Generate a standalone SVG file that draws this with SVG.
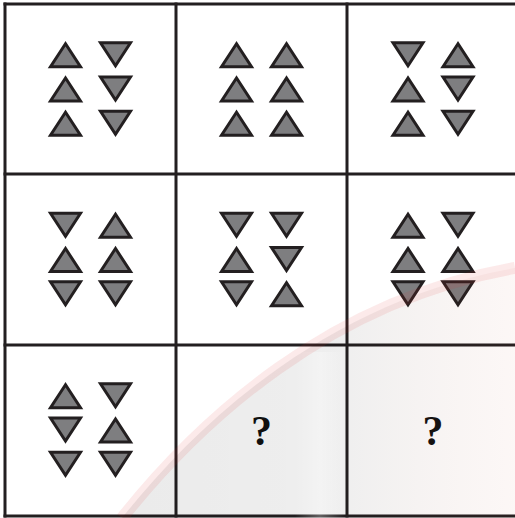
<svg xmlns="http://www.w3.org/2000/svg" xmlns:xlink="http://www.w3.org/1999/xlink" width="515" height="518" viewBox="0 0 515 518">
  <style>
    .tri { fill: #7e7e80; stroke: #231f20; stroke-width: 3; stroke-linejoin: miter; stroke-miterlimit: 10; }
    .grid { stroke: #231f20; stroke-width: 3; fill: none; }
    .q { font-family: "Liberation Serif", "Times New Roman", serif; font-weight: bold; font-size: 42px; fill: #111; text-anchor: middle; }
  </style>
  <defs>
    <polygon id="up" class="tri" points="0,-11 -15,12 15,12"/>
    <polygon id="dn" class="tri" points="-15,-12 15,-12 0,11"/>
    <linearGradient id="shade" x1="0" y1="0" x2="1" y2="0">
      <stop offset="0" stop-color="#000" stop-opacity="0.08"/>
      <stop offset="0.55" stop-color="#000" stop-opacity="0.065"/>
      <stop offset="1" stop-color="#c04020" stop-opacity="0.04"/>
    </linearGradient>
    <linearGradient id="stripe" x1="0" y1="0" x2="1" y2="0">
      <stop offset="0" stop-color="#fff" stop-opacity="0"/>
      <stop offset="0.5" stop-color="#fff" stop-opacity="0.3"/>
      <stop offset="1" stop-color="#fff" stop-opacity="0"/>
    </linearGradient>
  </defs>
  <rect x="0" y="0" width="515" height="518" fill="#ffffff"/>

  <g id="grid">
    <line class="grid" x1="3.5" y1="4" x2="515" y2="4"/>
    <line class="grid" x1="3.5" y1="174" x2="515" y2="174"/>
    <line class="grid" x1="3.5" y1="345" x2="515" y2="345"/>
    <line class="grid" x1="3.5" y1="516" x2="515" y2="516"/>
    <line class="grid" x1="5" y1="2.5" x2="5" y2="517.5"/>
    <line class="grid" x1="176" y1="2.5" x2="176" y2="517.5"/>
    <line class="grid" x1="347" y1="2.5" x2="347" y2="517.5"/>
  </g>

  <g id="cell-1-1">
    <use xlink:href="#up" href="#up" x="65.5" y="54.7"/>
    <use xlink:href="#up" href="#up" x="65.5" y="89"/>
    <use xlink:href="#up" href="#up" x="65.5" y="123.3"/>
    <use xlink:href="#dn" href="#dn" x="115.5" y="54.7"/>
    <use xlink:href="#dn" href="#dn" x="115.5" y="89"/>
    <use xlink:href="#dn" href="#dn" x="115.5" y="123.3"/>
  </g>
  <g id="cell-1-2">
    <use xlink:href="#up" href="#up" x="236.5" y="54.7"/>
    <use xlink:href="#up" href="#up" x="236.5" y="89"/>
    <use xlink:href="#up" href="#up" x="236.5" y="123.3"/>
    <use xlink:href="#up" href="#up" x="286.5" y="54.7"/>
    <use xlink:href="#up" href="#up" x="286.5" y="89"/>
    <use xlink:href="#up" href="#up" x="286.5" y="123.3"/>
  </g>
  <g id="cell-1-3">
    <use xlink:href="#dn" href="#dn" x="408" y="54.7"/>
    <use xlink:href="#up" href="#up" x="408" y="89"/>
    <use xlink:href="#up" href="#up" x="408" y="123.3"/>
    <use xlink:href="#up" href="#up" x="458" y="54.7"/>
    <use xlink:href="#dn" href="#dn" x="458" y="89"/>
    <use xlink:href="#dn" href="#dn" x="458" y="123.3"/>
  </g>

  <g id="cell-2-1">
    <use xlink:href="#dn" href="#dn" x="65.5" y="225.2"/>
    <use xlink:href="#up" href="#up" x="65.5" y="259.5"/>
    <use xlink:href="#dn" href="#dn" x="65.5" y="293.8"/>
    <use xlink:href="#up" href="#up" x="115.5" y="225.2"/>
    <use xlink:href="#up" href="#up" x="115.5" y="259.5"/>
    <use xlink:href="#dn" href="#dn" x="115.5" y="293.8"/>
  </g>
  <g id="cell-2-2">
    <use xlink:href="#dn" href="#dn" x="236.5" y="225.2"/>
    <use xlink:href="#up" href="#up" x="236.5" y="259.5"/>
    <use xlink:href="#dn" href="#dn" x="236.5" y="293.8"/>
    <use xlink:href="#dn" href="#dn" x="286.5" y="225.2"/>
    <use xlink:href="#dn" href="#dn" x="286.5" y="259.5"/>
    <use xlink:href="#up" href="#up" x="286.5" y="293.8"/>
  </g>
  <g id="cell-2-3">
    <use xlink:href="#up" href="#up" x="408" y="225.2"/>
    <use xlink:href="#up" href="#up" x="408" y="259.5"/>
    <use xlink:href="#dn" href="#dn" x="408" y="293.8"/>
    <use xlink:href="#dn" href="#dn" x="458" y="225.2"/>
    <use xlink:href="#up" href="#up" x="458" y="259.5"/>
    <use xlink:href="#dn" href="#dn" x="458" y="293.8"/>
  </g>

  <g id="cell-3-1">
    <use xlink:href="#up" href="#up" x="65.5" y="395.7"/>
    <use xlink:href="#dn" href="#dn" x="65.5" y="430"/>
    <use xlink:href="#dn" href="#dn" x="65.5" y="464.3"/>
    <use xlink:href="#dn" href="#dn" x="115.5" y="395.7"/>
    <use xlink:href="#up" href="#up" x="115.5" y="430"/>
    <use xlink:href="#dn" href="#dn" x="115.5" y="464.3"/>
  </g>
  <g id="cell-3-2">
    <text class="q" x="261.5" y="445">?</text>
  </g>
  <g id="cell-3-3">
    <text class="q" x="433" y="445">?</text>
  </g>

  <g id="watermark" pointer-events="none">
    <path d="M 122 518 C 200 420 330 300 515 268 L 515 518 Z" fill="url(#shade)"/>
    <rect x="295" y="352" width="50" height="166" fill="url(#stripe)"/>
    <path d="M 122 518 C 200 420 330 300 515 268" fill="none" stroke="#e03030" stroke-opacity="0.1" stroke-width="12"/>
  </g>
</svg>
